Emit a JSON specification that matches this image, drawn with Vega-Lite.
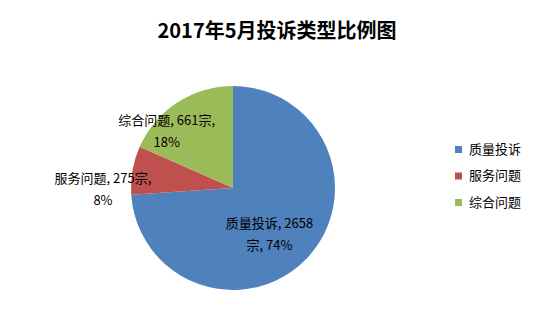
{
  "$schema": "https://vega.github.io/schema/vega-lite/v6.json",
  "width": 466,
  "height": 266,
  "autosize": {"type": "none"},
  "padding": {"left": 0, "top": 55, "right": 84, "bottom": 0},
  "background": "white",
  "title": {
    "text": "2017年5月投诉类型比例图",
    "fontSize": 20,
    "fontWeight": "bold",
    "font": "Noto Sans CJK SC",
    "color": "#000000",
    "anchor": "middle",
    "frame": "group",
    "dx": 44,
    "offset": 13
  },
  "data": {
    "values": [
      {"type": "质量投诉", "count": 2658, "idx": 1, "label": "质量投诉, 2658\n宗, 74%"},
      {"type": "服务问题", "count": 275, "idx": 2, "label": "服务问题, 275宗,\n8%"},
      {"type": "综合问题", "count": 661, "idx": 3, "label": "综合问题, 661宗,\n18%"}
    ]
  },
  "encoding": {
    "theta": {"field": "count", "type": "quantitative", "stack": true},
    "order": {"field": "idx", "type": "quantitative", "sort": "ascending"},
    "detail": {"field": "type", "type": "nominal"}
  },
  "layer": [
    {
      "mark": {"type": "arc", "outerRadius": 102},
      "encoding": {
        "color": {
          "field": "type",
          "type": "nominal",
          "sort": ["质量投诉", "服务问题", "综合问题"],
          "scale": {
            "domain": ["质量投诉", "服务问题", "综合问题"],
            "range": ["#4F81BD", "#C0504D", "#9BBB59"]
          },
          "legend": {
            "title": null,
            "orient": "none",
            "legendX": 452,
            "legendY": 88,
            "symbolType": "square",
            "symbolSize": 49,
            "symbolStrokeWidth": 0,
            "labelFont": "Noto Sans CJK SC",
            "labelFontSize": 13,
            "labelColor": "#000000",
            "labelOffset": 4,
            "rowPadding": 12.5,
            "padding": 0
          }
        }
      }
    },
    {
      "mark": {"type": "text", "radius": 50, "dy": 2, "font": "Noto Sans CJK SC", "fontSize": 13, "lineBreak": "\n", "lineHeight": 22, "color": "#000000", "align": "center", "baseline": "middle"},
      "encoding": {
        "text": {"condition": {"test": "datum.type === '质量投诉'", "field": "label"}, "value": ""}
      }
    },
    {
      "mark": {"type": "text", "radius": 130, "dx": -2, "dy": 14, "font": "Noto Sans CJK SC", "fontSize": 13, "lineBreak": "\n", "lineHeight": 22, "color": "#000000", "align": "center", "baseline": "middle"},
      "encoding": {
        "text": {"condition": {"test": "datum.type === '服务问题'", "field": "label"}, "value": ""}
      }
    },
    {
      "mark": {"type": "text", "radius": 94, "dx": -15, "dy": 12, "font": "Noto Sans CJK SC", "fontSize": 13, "lineBreak": "\n", "lineHeight": 22, "color": "#000000", "align": "center", "baseline": "middle"},
      "encoding": {
        "text": {"condition": {"test": "datum.type === '综合问题'", "field": "label"}, "value": ""}
      }
    }
  ]
}
